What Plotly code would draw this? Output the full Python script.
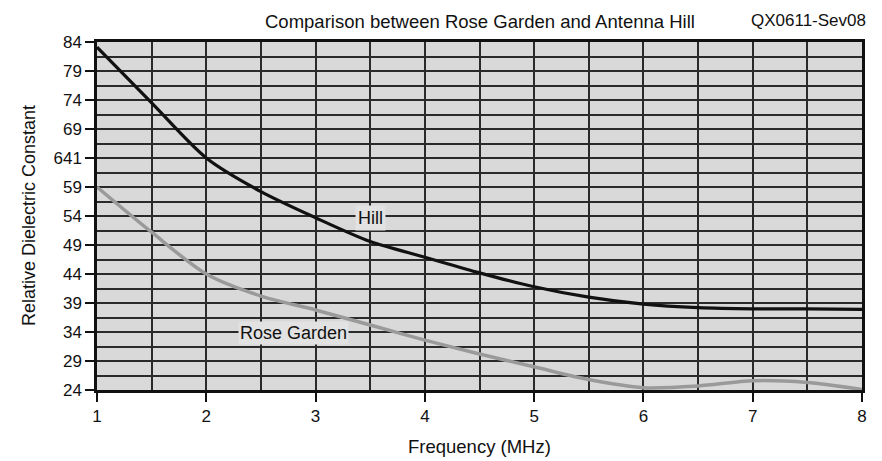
import plotly.graph_objects as go

freq = [1, 1.5, 2, 2.5, 3, 3.5, 4, 4.5, 5, 5.5, 6, 6.5, 7, 7.5, 8]
hill = [83.1, 73.5, 64.0, 58.2, 53.7, 49.6, 46.9, 44.2, 41.8, 40.0, 38.8, 38.2, 38.0, 38.0, 37.9]
rose = [59.0, 51.2, 44.0, 40.2, 37.8, 35.2, 32.6, 30.2, 28.0, 25.8, 24.4, 24.7, 25.6, 25.3, 24.1]

y_tickvals = [24, 29, 34, 39, 44, 49, 54, 59, 64, 69, 74, 79, 84]
y_ticktext = ["24", "29", "34", "39", "44", "49", "54", "59", "641", "69", "74", "79", "84"]
x_tickvals = [1, 2, 3, 4, 5, 6, 7, 8]

font_family = "Liberation Sans, Arial, sans-serif"
grid_color = "#2a2a2a"

fig = go.Figure()
fig.add_trace(go.Scatter(x=freq, y=rose, mode="lines", line=dict(color="#9a9a9a", width=3.5, shape="spline", smoothing=0.8),
                         name="Rose Garden", showlegend=False))
fig.add_trace(go.Scatter(x=freq, y=hill, mode="lines", line=dict(color="#111111", width=3.2, shape="spline", smoothing=0.8),
                         name="Hill", showlegend=False))

fig.update_layout(
    width=882, height=461,
    margin=dict(l=97, r=20, t=42, b=71),
    paper_bgcolor="white",
    plot_bgcolor="#d9d9d9",
    font=dict(family=font_family, color="#111111", size=17),
    xaxis=dict(
        range=[1, 8], tickvals=x_tickvals, ticktext=[str(v) for v in x_tickvals],
        ticks="outside", ticklen=9, tickcolor="#111", tickwidth=1.5,
        showgrid=True, gridcolor=grid_color, gridwidth=1.5,
        minor=dict(dtick=0.5, tick0=1, showgrid=True, gridcolor=grid_color, gridwidth=1.5),
        showline=True, linecolor="#111", linewidth=2.5, mirror=True,
        zeroline=False, automargin=False,
        tickfont=dict(size=17),
    ),
    yaxis=dict(
        range=[24, 84], tickvals=y_tickvals, ticktext=y_ticktext,
        ticks="outside", ticklen=9, tickcolor="#111", tickwidth=1.5,
        showgrid=True, gridcolor=grid_color, gridwidth=1.5,
        minor=dict(dtick=2.5, tick0=24, showgrid=True, gridcolor=grid_color, gridwidth=1.5),
        showline=True, linecolor="#111", linewidth=2.5, mirror=True,
        zeroline=False, automargin=False,
        tickfont=dict(size=17),
    ),
    annotations=[
        dict(text="Comparison between Rose Garden and Antenna Hill", xref="paper", yref="paper",
             x=0.5, y=1.0, yshift=8, xanchor="center", yanchor="bottom", showarrow=False,
             font=dict(size=18.5)),
        dict(text="QX0611-Sev08", xref="paper", yref="paper",
             x=1.0, y=1.0, xshift=6, yshift=10, xanchor="right", yanchor="bottom", showarrow=False,
             font=dict(size=17)),
        dict(text="Frequency (MHz)", xref="paper", yref="paper",
             x=0.5, y=0.0, yshift=-56, xanchor="center", yanchor="middle", showarrow=False,
             font=dict(size=18.5)),
        dict(text="Relative Dielectric Constant", xref="paper", yref="paper",
             x=0.0, y=0.5, xshift=-68, xanchor="center", yanchor="middle", showarrow=False,
             textangle=-90, font=dict(size=18)),
        dict(text="Hill", x=3.5, y=53.6, xref="x", yref="y", showarrow=False,
             bgcolor="#e2e2e2", font=dict(size=18), borderpad=2),
        dict(text="Rose Garden", x=2.8, y=33.8, xref="x", yref="y", showarrow=False,
             bgcolor="#e2e2e2", font=dict(size=18), borderpad=1),
    ],
)

fig.write_html("out.html")
